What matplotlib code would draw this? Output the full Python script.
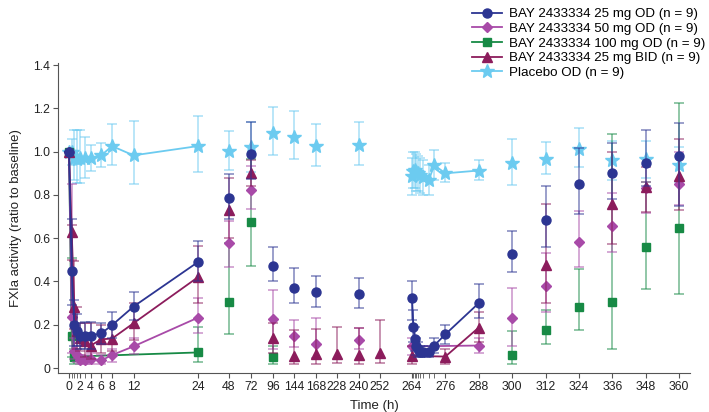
import numpy as np
import matplotlib
matplotlib.use("Agg")
import matplotlib.pyplot as plt
from matplotlib.lines import Line2D

plt.rcParams['font.family'] = ['Liberation Sans', 'DejaVu Sans']

# BAY 2433334 25 mg OD
t_25od = [0, 0.5, 1, 1.5, 2, 3, 4, 6, 8, 12, 24,
          48, 72, 96, 144, 168, 240,
          264, 264.5, 265, 265.5, 266, 267, 268, 270, 272, 276, 288,
          300, 312, 324, 336, 348, 360]
m_25od = [1.0, 0.45, 0.20, 0.17, 0.148, 0.15, 0.15, 0.16, 0.198, 0.284, 0.49,
          0.787, 0.99, 0.47, 0.37, 0.35, 0.34,
          0.323, 0.19, 0.133, 0.10, 0.087, 0.076, 0.072, 0.076, 0.104, 0.156, 0.30,
          0.528, 0.686, 0.851, 0.90, 0.949, 0.98]
lo_25od = [1.0, 0.29, 0.10, 0.10, 0.09, 0.09, 0.09, 0.11, 0.14, 0.22, 0.40,
           0.69, 0.875, 0.40, 0.30, 0.28, 0.278,
           0.22, 0.12, 0.08, 0.06, 0.05, 0.05, 0.05, 0.05, 0.07, 0.11, 0.23,
           0.443, 0.56, 0.712, 0.78, 0.84, 0.75]
hi_25od = [1.0, 0.69, 0.315, 0.25, 0.21, 0.215, 0.215, 0.21, 0.26, 0.35, 0.585,
           0.898, 1.135, 0.558, 0.464, 0.427, 0.417,
           0.40, 0.27, 0.19, 0.14, 0.12, 0.10, 0.10, 0.10, 0.14, 0.20, 0.39,
           0.632, 0.84, 1.018, 1.04, 1.10, 1.131]

# BAY 2433334 50 mg OD
t_50od = [0, 0.5, 1, 1.5, 2, 3, 4, 6, 8, 12, 24,
          48, 72, 96, 144, 168, 240,
          264, 288,
          300, 312, 324, 336, 348, 360]
m_50od = [1.0, 0.238, 0.08, 0.06, 0.035, 0.035, 0.04, 0.035, 0.06, 0.10, 0.233,
          0.58, 0.825, 0.227, 0.15, 0.11, 0.13,
          0.10, 0.104,
          0.233, 0.377, 0.583, 0.658, 0.833, 0.851]
lo_50od = [1.0, 0.07, 0.04, 0.03, 0.02, 0.02, 0.02, 0.02, 0.03, 0.065, 0.164,
           0.465, 0.735, 0.088, 0.099, 0.046, 0.088,
           0.06, 0.07,
           0.10, 0.26, 0.467, 0.536, 0.717, 0.754]
hi_50od = [1.0, 0.85, 0.14, 0.10, 0.06, 0.06, 0.07, 0.06, 0.09, 0.14, 0.323,
           0.68, 0.933, 0.36, 0.222, 0.232, 0.185,
           0.14, 0.14,
           0.372, 0.53, 0.725, 0.81, 0.86, 1.0]

# BAY 2433334 100 mg OD
t_100od = [0, 0.5, 1, 24, 48, 72, 96, 300, 312, 324, 336, 348, 360]
m_100od = [1.0, 0.148, 0.053, 0.072, 0.305, 0.673, 0.05, 0.06, 0.176, 0.283, 0.307, 0.558, 0.647]
lo_100od = [1.0, 0.05, 0.02, 0.03, 0.157, 0.47, 0.02, 0.02, 0.11, 0.176, 0.087, 0.365, 0.34]
hi_100od = [1.0, 0.51, 0.09, 0.19, 0.58, 0.964, 0.10, 0.17, 0.27, 0.457, 1.08, 0.86, 1.227]

# BAY 2433334 25 mg BID
t_25bid = [0, 0.5, 1, 1.5, 2, 3, 4, 6, 8, 12, 24,
           48, 72, 96, 144, 168, 228, 240, 252,
           264, 276, 288,
           312, 336, 348, 360]
m_25bid = [1.0, 0.627, 0.284, 0.17, 0.14, 0.125, 0.103, 0.133, 0.136, 0.207, 0.42,
           0.73, 0.90, 0.14, 0.056, 0.065, 0.065, 0.06, 0.07,
           0.056, 0.053, 0.187,
           0.474, 0.756, 0.835, 0.889]
lo_25bid = [1.0, 0.50, 0.18, 0.09, 0.08, 0.05, 0.04, 0.07, 0.08, 0.13, 0.30,
            0.60, 0.84, 0.07, 0.02, 0.02, 0.022, 0.02, 0.022,
            0.02, 0.02, 0.12,
            0.30, 0.575, 0.72, 0.73]
hi_25bid = [1.0, 0.66, 0.496, 0.28, 0.21, 0.21, 0.21, 0.20, 0.20, 0.30, 0.566,
            0.88, 0.96, 0.21, 0.175, 0.18, 0.19, 0.185, 0.222,
            0.10, 0.09, 0.26,
            0.76, 1.0, 0.93, 1.06]

# Placebo OD
t_pbo = [0, 0.5, 1, 1.5, 2, 3, 4, 6, 8, 12, 24,
         48, 72, 96, 144, 168, 240,
         264, 264.5, 265, 265.5, 266, 267, 268, 270, 272, 276, 288,
         300, 312, 324, 336, 348, 360]
m_pbo = [1.0, 1.0, 0.972, 0.964, 0.969, 0.969, 0.972, 0.983, 1.026, 0.983, 1.026,
         1.005, 1.02, 1.088, 1.07, 1.026, 1.03,
         0.887, 0.91, 0.915, 0.905, 0.90, 0.89, 0.885, 0.867, 0.938, 0.90, 0.913,
         0.946, 0.967, 1.014, 0.96, 0.964, 0.937]
lo_pbo = [1.0, 0.94, 0.87, 0.855, 0.855, 0.88, 0.91, 0.93, 0.94, 0.85, 0.908,
          0.915, 0.905, 0.983, 0.964, 0.933, 0.94,
          0.80, 0.83, 0.83, 0.82, 0.82, 0.81, 0.80, 0.80, 0.87, 0.86, 0.87,
          0.844, 0.895, 0.93, 0.87, 0.88, 0.86]
hi_pbo = [1.0, 1.06, 1.10, 1.10, 1.10, 1.07, 1.03, 1.04, 1.13, 1.14, 1.163,
          1.095, 1.135, 1.207, 1.188, 1.13, 1.137,
          0.97, 1.0, 1.0, 0.99, 0.98, 0.97, 0.96, 0.94, 1.01, 0.95, 0.96,
          1.057, 1.045, 1.108, 1.05, 1.05, 1.02]

xtick_vals = [0, 2, 4, 6, 8, 12, 24, 48, 72, 96, 144, 168, 228, 240, 252,
              264, 276, 288, 300, 312, 324, 336, 348, 360]
xminor_vals = [0.5, 1, 1.5, 3, 264.5, 265, 265.5, 266, 267, 268, 270, 272]

# broken time axis: hours -> axis units (piecewise linear)
knot_h = [-10, 0, 24, 48, 72, 96, 144, 168, 228, 240, 252, 264, 360, 380]
knot_p = [15.7, 69, 198, 229, 251, 273, 294, 316, 337, 358.5, 379.5, 412, 679, 734.6]


def fwd(x):
    return np.interp(x, knot_h, knot_p)


def inv(p):
    return np.interp(p, knot_p, knot_h)


series = [
    ("Placebo OD (n = 9)", t_pbo, m_pbo, lo_pbo, hi_pbo, '#6ccbf0', '*', 10),
    ("BAY 2433334 100 mg OD (n = 9)", t_100od, m_100od, lo_100od, hi_100od, '#178a45', 's', 6),
    ("BAY 2433334 50 mg OD (n = 9)", t_50od, m_50od, lo_50od, hi_50od, '#a84aa8', 'D', 5.5),
    ("BAY 2433334 25 mg BID (n = 9)", t_25bid, m_25bid, lo_25bid, hi_25bid, '#8c1c5c', '^', 6.5),
    ("BAY 2433334 25 mg OD (n = 9)", t_25od, m_25od, lo_25od, hi_25od, '#2c3592', 'o', 6.5),
]

fig = plt.figure(figsize=(7.09, 4.12), dpi=100)
ax = fig.add_axes([58 / 709, 1 - 373 / 412, 632 / 709, 310 / 412])
ax.set_xscale('function', functions=(fwd, inv))

for name, t, m, lo, hi, c, mk, ms in series:
    t = np.array(t)
    m = np.array(m)
    yerr = [m - np.array(lo), np.array(hi) - m]
    ax.errorbar(t, m, yerr=yerr, fmt='none', ecolor=c, alpha=0.6,
                elinewidth=1.1, capsize=3.5, capthick=1.1)
    for seg in [(t <= 24), (t >= 264) & (t <= 288)]:
        if seg.sum() > 1:
            ax.plot(t[seg], m[seg], '-', color=c, lw=1.3)
    ax.plot(t, m, linestyle='none', marker=mk, color=c, ms=ms, mec=c)

ax.set_xlim(inv(58), inv(690))
ax.set_ylim(-0.023, 1.41)
ax.set_xticks(xtick_vals)
ax.set_xticklabels([str(v) for v in xtick_vals])
ax.set_xticks(xminor_vals, minor=True)
ax.set_yticks([0, 0.2, 0.4, 0.6, 0.8, 1.0, 1.2, 1.4])
ax.set_yticklabels(['0', '0.2', '0.4', '0.6', '0.8', '1.0', '1.2', '1.4'])

for side in ['top', 'right']:
    ax.spines[side].set_visible(False)
for side in ['left', 'bottom']:
    ax.spines[side].set_color('#555555')
ax.tick_params(axis='both', which='both', colors='#555555', labelcolor='#222222',
               labelsize=8.8, length=3.5, pad=2, direction='out')

ax.set_xlabel("Time (h)", fontsize=9.5, color='#222222', labelpad=5)
ax.set_ylabel("FXIa activity (ratio to baseline)", fontsize=9.5, color='#222222', labelpad=8)

order = [4, 2, 1, 3, 0]
handles = []
for i in order:
    name, t, m, lo, hi, c, mk, ms = series[i]
    handles.append(Line2D([0], [0], color=c, lw=1.3, marker=mk, ms=ms, mec=c, label=name))
fig.legend(handles=handles, loc='upper right', bbox_to_anchor=(1.012, 1.01),
           frameon=False, fontsize=9.6, handlelength=2.3, labelspacing=0.18,
           handletextpad=0.5)

fig.savefig("out.png", dpi=100)
